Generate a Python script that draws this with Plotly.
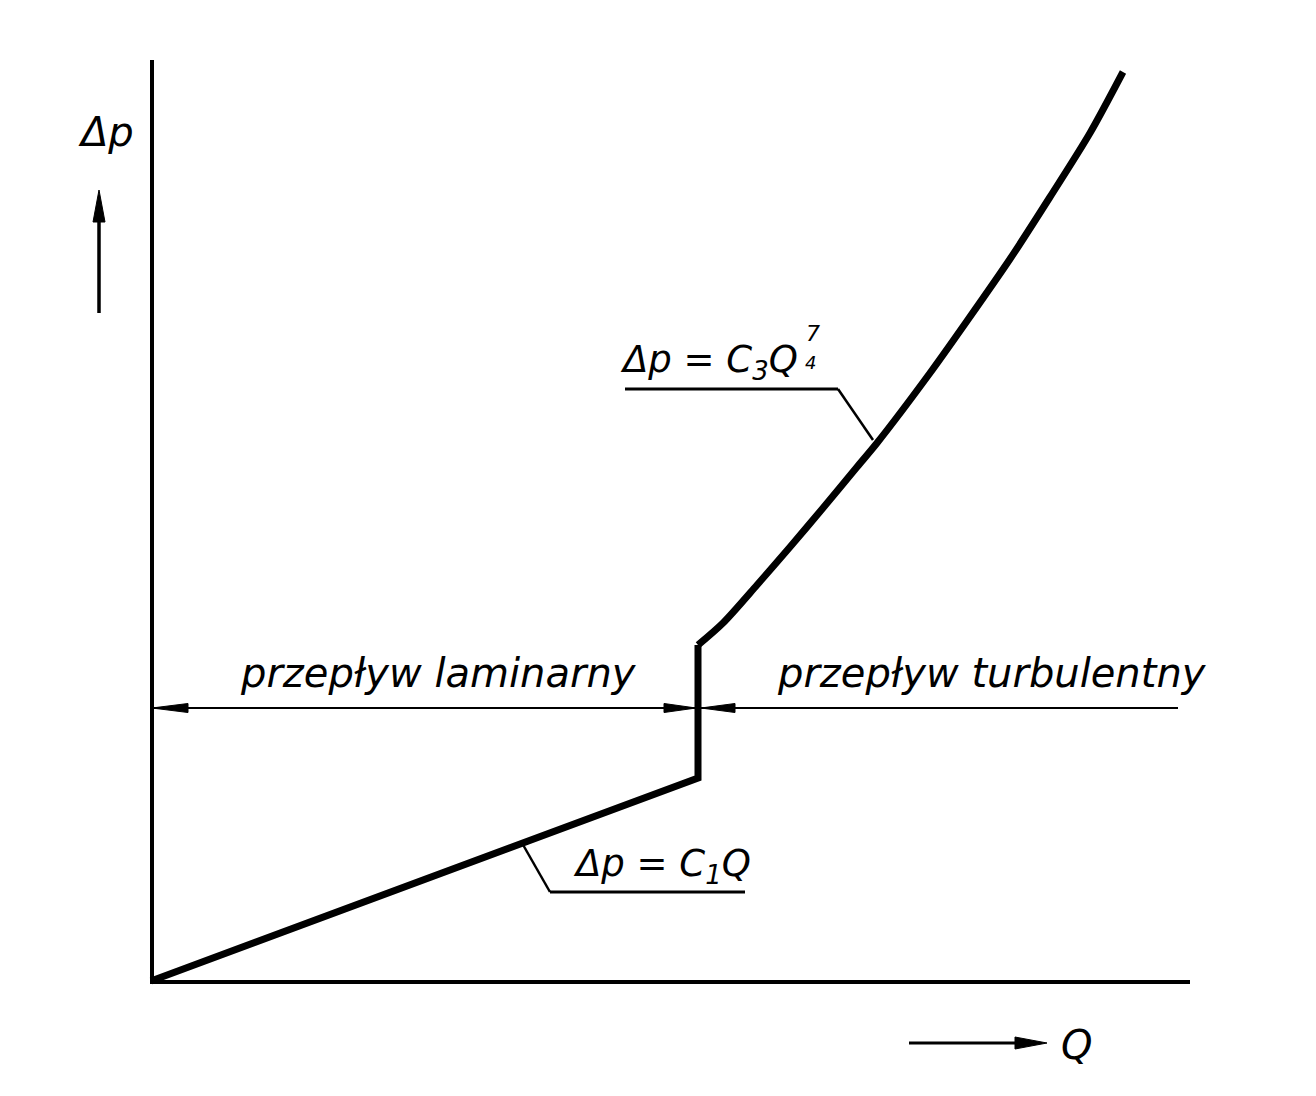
import plotly.graph_objects as go

# ---- data (Q and Δp in drawing units) ----
Q_laminar = [0, 547]
dp_laminar = [0, 203]
Q_jump = [547, 547]
dp_jump = [203, 336]
Q_turbulent = [547, 572, 606, 639, 672, 706, 726, 779, 816, 859, 899, 939, 972]
dp_turbulent = [336, 358, 396, 434, 473, 514, 538, 608, 660, 722, 784, 848, 909]

label_laminar = "przepływ laminarny"
label_turbulent = "przepływ turbulentny"

W, H = 1300, 1080
PAGE_OFF = 8          # default body margin of the html page
OX, OY = 151, 981     # page pixel position of the origin


def X(px):
    return px - OX


def Y(py):
    return OY - py


FONT = dict(family="DejaVu Sans", color="black", style="italic")

fig = go.Figure()

# curve
fig.add_trace(go.Scatter(x=Q_laminar + Q_jump[1:], y=dp_laminar + dp_jump[1:], mode="lines",
                         line=dict(color="black", width=7), hoverinfo="skip"))
fig.add_trace(go.Scatter(x=Q_turbulent, y=dp_turbulent, mode="lines",
                         line=dict(color="black", width=7, shape="spline", smoothing=0.8),
                         hoverinfo="skip"))

shapes = []


def line(x0, y0, x1, y1, w):
    shapes.append(dict(type="line", x0=X(x0), y0=Y(y0), x1=X(x1), y1=Y(y1),
                       line=dict(color="black", width=w), layer="above"))


def head(tx, ty, dx, dy, length, half):
    bx, by = tx - dx * length, ty - dy * length
    nx, ny = -dy, dx
    p = [(tx, ty), (bx + nx * half, by + ny * half), (bx - nx * half, by - ny * half)]
    path = "M {} {} L {} {} L {} {} Z".format(*[v for pt in p for v in (X(pt[0]), Y(pt[1]))])
    shapes.append(dict(type="path", path=path, fillcolor="black",
                       line=dict(color="black", width=1), layer="above"))


# axes
line(152, 60, 152, 982, 4)
line(150, 982, 1190, 982, 4)

# dimension line with arrows
line(152, 708, 1178, 708, 2)
head(152, 708, -1, 0, 36, 4.5)
head(696, 708, 1, 0, 32, 4.5)
head(701, 708, -1, 0, 34, 4.5)

# leader lines
line(625, 389, 838, 389, 3)
line(838, 389, 873, 440, 2.5)
line(550, 892, 745, 892, 3)
line(550, 892, 522, 843, 2.5)

# axis direction arrows
line(99, 313, 99, 215, 3.5)
head(99, 190, 0, -1, 32, 6)
line(909, 1043, 1020, 1043, 3)
head(1047, 1043, 1, 0, 32, 6)

annotations = [
    dict(x=X(438), y=Y(673), text=label_laminar, font=dict(size=40, **FONT)),
    dict(x=X(992), y=Y(673), text=label_turbulent, font=dict(size=40, **FONT)),
    dict(x=X(618), y=Y(362), text="Δp = C<sub>3</sub>Q", xanchor="left", font=dict(size=37, **FONT)),
    dict(x=X(813), y=Y(333), text="7", font=dict(size=22, **FONT)),
    dict(x=X(810), y=Y(362), text="4", font=dict(size=18, **FONT)),
    dict(x=X(571), y=Y(866), text="Δp = C<sub>1</sub>Q", xanchor="left", font=dict(size=37, **FONT)),
    dict(x=X(106), y=Y(132), text="Δp", font=dict(size=40, **FONT)),
    dict(x=X(1076), y=Y(1045), text="Q", font=dict(size=40, **FONT)),
]
for a in annotations:
    a.update(xref="x", yref="y", showarrow=False)

fig.update_layout(
    width=W, height=H,
    margin=dict(l=0, r=0, t=0, b=0),
    paper_bgcolor="white", plot_bgcolor="white",
    showlegend=False,
    xaxis=dict(range=[X(PAGE_OFF), X(PAGE_OFF + W)], visible=False, fixedrange=True),
    yaxis=dict(range=[Y(PAGE_OFF + H), Y(PAGE_OFF)], visible=False, fixedrange=True),
    shapes=shapes,
    annotations=annotations,
)

fig.write_html("out.html")
